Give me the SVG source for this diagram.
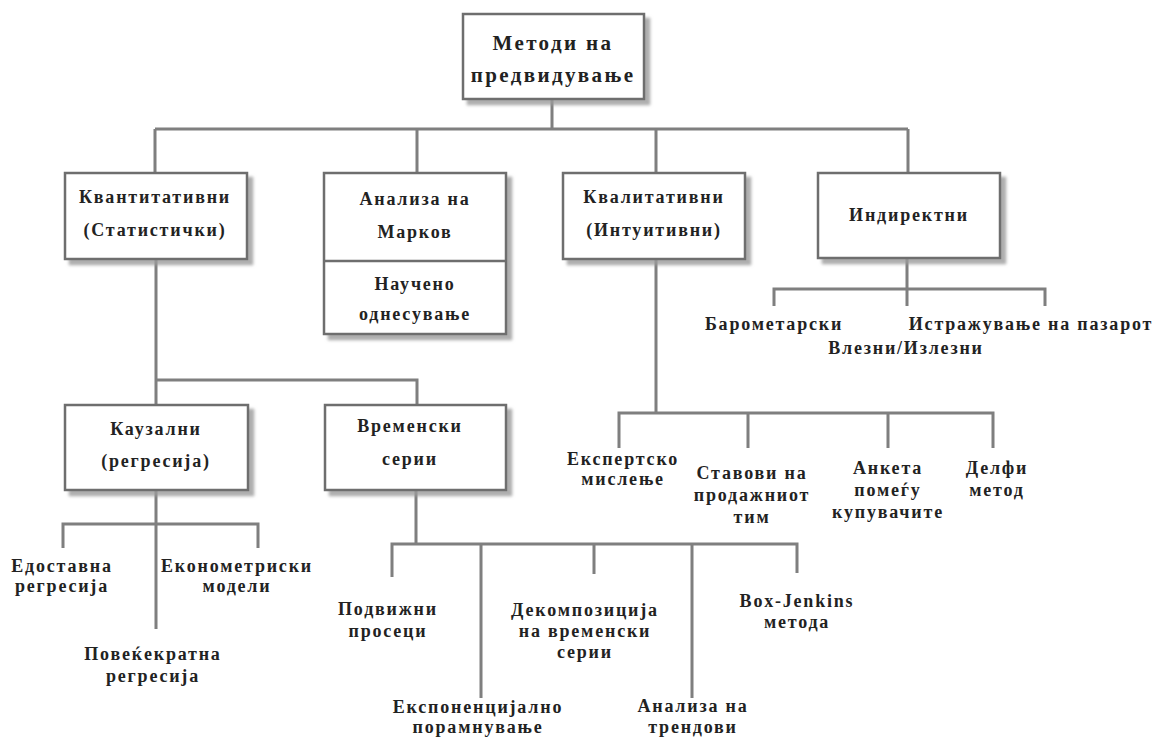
<svg xmlns="http://www.w3.org/2000/svg" width="1160" height="740" viewBox="0 0 1160 740">
  <defs>
    <filter id="shadow" x="-10%" y="-10%" width="130%" height="140%">
      <feDropShadow dx="5" dy="5" stdDeviation="1.5" flood-color="#9a9a9a" flood-opacity="0.8"/>
    </filter>
  </defs>
  <style>
    .box { fill: #ffffff; stroke: #6e6e6e; stroke-width: 2.5; filter: url(#shadow); }
    .div { fill: none; stroke: #6e6e6e; stroke-width: 2.5; }
    .wire { fill: none; stroke: #7f7f7f; stroke-width: 3; }
    text { font-family: "Liberation Serif", "DejaVu Serif", serif; font-weight: bold; fill: #222222; text-anchor: middle; }
    .t { font-size: 18px; letter-spacing: 1.8px; }
    .h { font-size: 21px; letter-spacing: 2.4px; }
  </style>
  <rect width="1160" height="740" fill="#ffffff"/>

  <!-- connectors -->
  <g id="connectors">
    <path class="wire" d="M552 99 V129 M155 129 H908 M155 129 V173 M417 129 V173 M656 129 V173 M908 129 V173"/>
    <path class="wire" d="M156 259 V405 M156 380 H417 V405"/>
    <path class="wire" d="M156 490 V629 M63 548 V524 H258 V548"/>
    <path class="wire" d="M416 490 V544 M392 577 V544 H797 V573 M481 544 V698 M594 544 V574 M692 544 V698"/>
    <path class="wire" d="M656 259 V413 M619 448 V413 H993 V448 M748 413 V448 M888 413 V448"/>
    <path class="wire" d="M907 258 V306 M774 306 V289 H1045 V306"/>
  </g>

  <!-- root -->
  <g id="root">
    <rect class="box" x="463" y="14" width="181" height="85"/>
    <text class="h" x="553" y="50">Методи на</text>
    <text class="h" x="553" y="82">предвидување</text>
  </g>

  <g id="quantitative">
    <rect class="box" x="65" y="173" width="182" height="86"/>
    <text class="t" x="155" y="203">Квантитативни</text>
    <text class="t" x="155" y="236">(Статистички)</text>
  </g>

  <g id="markov">
    <rect class="box" x="324" y="173" width="182" height="161"/>
    <line class="div" x1="324" y1="261" x2="506" y2="261"/>
    <text class="t" x="415" y="205">Анализа на</text>
    <text class="t" x="415" y="238">Марков</text>
    <text class="t" x="415" y="290">Научено</text>
    <text class="t" x="415" y="320">однесување</text>
  </g>

  <g id="qualitative">
    <rect class="box" x="563" y="173" width="182" height="86"/>
    <text class="t" x="654" y="203">Квалитативни</text>
    <text class="t" x="654" y="236">(Интуитивни)</text>
  </g>

  <g id="indirect">
    <rect class="box" x="818" y="173" width="182" height="85"/>
    <text class="t" x="909" y="221">Индиректни</text>
  </g>

  <g id="barometric">
    <text class="t" x="774" y="330">Барометарски</text>
  </g>
  <g id="input-output">
    <text class="t" x="906" y="354">Влезни/Излезни</text>
  </g>
  <g id="market-research">
    <text class="t" x="1031" y="330">Истражување на пазарот</text>
  </g>

  <g id="causal">
    <rect class="box" x="65" y="405" width="183" height="85"/>
    <text class="t" x="156" y="435">Каузални</text>
    <text class="t" x="156" y="467">(регресија)</text>
  </g>

  <g id="time-series">
    <rect class="box" x="325" y="405" width="181" height="85"/>
    <text class="t" x="410" y="432">Временски</text>
    <text class="t" x="410" y="465">серии</text>
  </g>

  <g id="simple-regression">
    <text class="t" x="62" y="572">Едоставна</text>
    <text class="t" x="62" y="592">регресија</text>
  </g>
  <g id="econometric">
    <text class="t" x="237" y="572">Економетриски</text>
    <text class="t" x="237" y="592">модели</text>
  </g>
  <g id="multiple-regression">
    <text class="t" x="153" y="660">Повеќекратна</text>
    <text class="t" x="153" y="682">регресија</text>
  </g>

  <g id="moving-averages">
    <text class="t" x="388" y="615">Подвижни</text>
    <text class="t" x="388" y="637">просеци</text>
  </g>
  <g id="exp-smoothing">
    <text class="t" x="478" y="713">Експоненцијално</text>
    <text class="t" x="478" y="733">порамнување</text>
  </g>
  <g id="decomposition">
    <text class="t" x="585" y="616">Декомпозиција</text>
    <text class="t" x="585" y="637">на временски</text>
    <text class="t" x="585" y="658">серии</text>
  </g>
  <g id="trend-analysis">
    <text class="t" x="693" y="712">Анализа на</text>
    <text class="t" x="693" y="733">трендови</text>
  </g>
  <g id="box-jenkins">
    <text class="t" x="797" y="607">Box-Jenkins</text>
    <text class="t" x="797" y="628">метода</text>
  </g>

  <g id="expert-opinion">
    <text class="t" x="623" y="465">Експертско</text>
    <text class="t" x="623" y="485">мислење</text>
  </g>
  <g id="sales-force">
    <text class="t" x="752" y="479">Ставови на</text>
    <text class="t" x="752" y="501">продажниот</text>
    <text class="t" x="752" y="523">тим</text>
  </g>
  <g id="customer-survey">
    <text class="t" x="888" y="474">Анкета</text>
    <text class="t" x="888" y="496">помеѓу</text>
    <text class="t" x="888" y="518">купувачите</text>
  </g>
  <g id="delphi">
    <text class="t" x="997" y="474">Делфи</text>
    <text class="t" x="997" y="496">метод</text>
  </g>
</svg>
